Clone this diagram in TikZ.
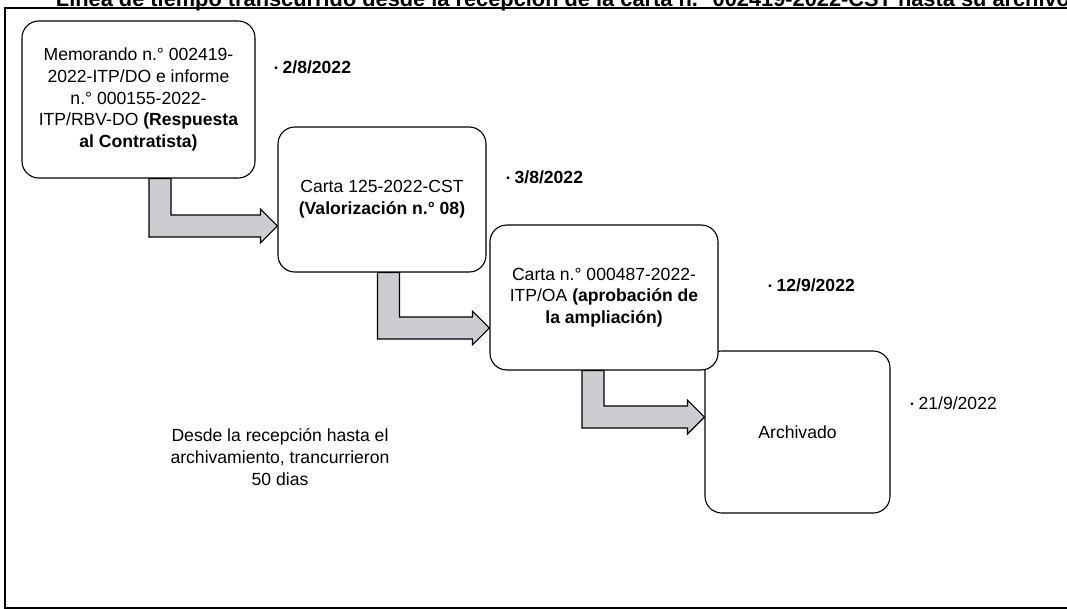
\documentclass[tikz,border=0pt]{standalone}
\usepackage{fontspec}
\setmainfont{Liberation Sans}
\usetikzlibrary{calc}
\definecolor{flechagris}{RGB}{204,205,210}
\newcommand{\pxu}{0.025cm}
\newcommand{\punto}{\raisebox{1pt}{\scriptsize\textbullet}}
% flecha acodada: baja desde #1 y gira hacia la punta #2
\newcommand{\codo}[2]{%
  \filldraw[flecha] let \p1=(#1), \p2=(#2) in
    (\x1-11*\pxu,\y1) -- (\x1+11*\pxu,\y1) -- (\x1+11*\pxu,\y2+11*\pxu)
    -- (\x2-17*\pxu,\y2+11*\pxu) -- (\x2-17*\pxu,\y2+17*\pxu) -- (\x2,\y2)
    -- (\x2-17*\pxu,\y2-17*\pxu) -- (\x2-17*\pxu,\y2-11*\pxu)
    -- (\x1-11*\pxu,\y2-11*\pxu) -- cycle;}

\begin{document}
\begin{tikzpicture}[
    x=0.025cm, y=-0.025cm,
    font=\fontsize{12.5}{15.5}\selectfont,
    etapa/.style={draw, line width=0.8pt, rounded corners=0.42cm, fill=white,
                  align=center, inner sep=0pt},
    fecha/.style={anchor=west, inner sep=0pt},
    flecha/.style={draw=black, line width=0.8pt, fill=flechagris}
]
\useasboundingbox (0,0) rectangle (1067,608);
\clip (0,0) rectangle (1067,608);
\draw[line width=1.1pt] (5,8) rectangle (1090,608);
\node[anchor=base west, font=\fontsize{15.5}{18}\selectfont\bfseries] (titulo) at (51,6)
  {Línea de tiempo transcurrido desde la recepción de la carta n.° 002419-2022-CST hasta su archivo};

\node[etapa, minimum width=233*\pxu, minimum height=157*\pxu] (memo) at (138.5,99.5)
  {Memorando n.° 002419-\\2022-ITP/DO e informe\\n.° 000155-2022-\\ITP/RBV-DO \textbf{(Respuesta}\\\textbf{al Contratista)}};
\node[etapa, minimum width=208*\pxu, minimum height=145*\pxu] (carta1) at (382,199.5)
  {Carta 125-2022-CST\\\textbf{(Valorización n.° 08)}};
\node[etapa, minimum width=185*\pxu, minimum height=162*\pxu] (archivo) at (797.5,432)
  {Archivado};
\node[etapa, minimum width=228*\pxu, minimum height=145*\pxu] (carta2) at (604,297.5)
  {Carta n.° 000487-2022-\\ITP/OA \textbf{(aprobación de}\\\textbf{la ampliación)}};

\node[align=center] (nota) at (280,457)
  {Desde la recepción hasta el\\archivamiento, trancurrieron\\50 dias};

\node[fecha, font=\fontsize{12.5}{15.5}\selectfont\bfseries] (f1) at (274,67) {\punto{} 2/8/2022};
\node[fecha, font=\fontsize{12.5}{15.5}\selectfont\bfseries] (f2) at (506,177) {\punto{} 3/8/2022};
\node[fecha, font=\fontsize{12.5}{15.5}\selectfont\bfseries] (f3) at (768,285) {\punto{} 12/9/2022};
\node[fecha] (f4) at (910,403) {\punto{} 21/9/2022};

\coordinate (a1) at ($(memo.south)+(21.5,0)$);
\coordinate (b1) at ($(carta1.west)+(0,26.5)$);
\coordinate (a2) at ($(carta1.south)+(6.5,0)$);
\coordinate (b2) at ($(carta2.west)+(0,30.5)$);
\coordinate (a3) at ($(carta2.south)+(-11,0)$);
\coordinate (b3) at ($(archivo.west)+(0,-15)$);
\codo{a1}{b1}
\codo{a2}{b2}
\codo{a3}{b3}
\end{tikzpicture}
\end{document}
